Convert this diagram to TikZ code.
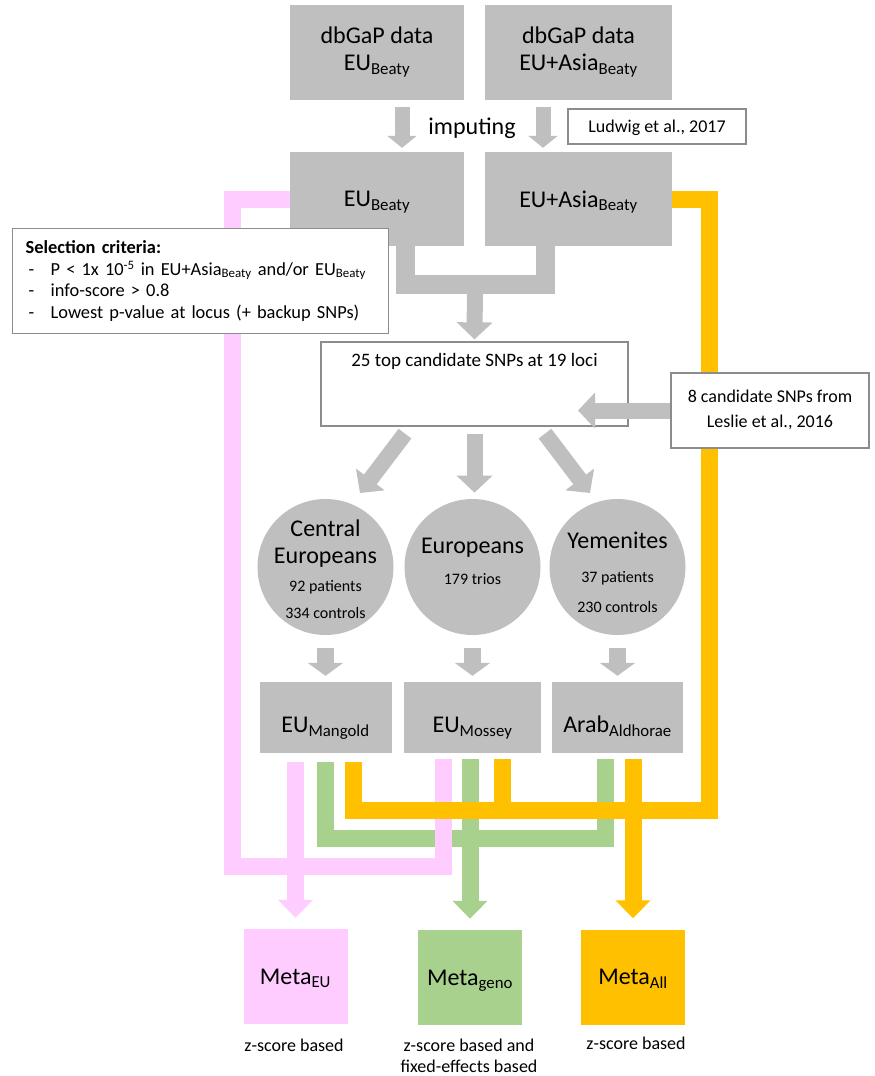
\documentclass[tikz,border=0pt]{standalone}
\usepackage{fontspec}
\setmainfont{Carlito}
\usetikzlibrary{arrows.meta}

\definecolor{boxgray}{HTML}{BFBFBF}
\definecolor{edgegray}{HTML}{8C8C8C}
\definecolor{metapink}{HTML}{FFCCFF}
\definecolor{metagreen}{HTML}{A9D18E}
\definecolor{metaorange}{HTML}{FFC000}

\newcommand{\boxfont}{\fontsize{24}{27}\selectfont}
\newcommand{\notefont}{\fontsize{18}{21}\selectfont}
\newcommand{\countfont}{\fontsize{16}{19}\selectfont}
\newcommand{\critfont}{\fontsize{18.4}{21.7}\selectfont}
\newcommand{\dashitem}{\hspace*{3pt}\makebox[22pt][l]{-}}

\tikzset{
  graybox/.style={fill=boxgray, inner sep=0pt, align=center, font=\boxfont},
  notebox/.style={draw=edgegray, line width=1.3pt, fill=white, inner sep=0pt, align=center},
  popcircle/.style={circle, fill=boxgray, minimum size=136pt, inner sep=0pt},
  poptext/.style={font=\boxfont, align=center, inner sep=0pt, text depth=0pt},
  metabox/.style={minimum width=104pt, minimum height=95pt, inner sep=0pt, font=\boxfont, text depth=0pt},
  toparrow/.style={draw=boxgray, line width=15pt, -{Triangle[width=29pt,length=12pt]}},
  fatarrow/.style={draw=boxgray, line width=16pt, -{Triangle[width=35pt,length=17pt]}},
  downarrow/.style={draw=boxgray, line width=17pt, -{Triangle[width=35pt,length=13pt]}},
  pinkline/.style={draw=metapink, line width=17pt},
  greenline/.style={draw=metagreen, line width=17pt},
  orangeline/.style={draw=metaorange, line width=17pt},
  metatip/.style={-{Triangle[width=34pt,length=18pt]}}
}

\begin{document}
\begin{tikzpicture}[x=1pt,y=-1pt]
  \useasboundingbox (0,0) rectangle (875,1076);
  % dbGaP data
  \node[graybox, minimum width=174pt, minimum height=95pt, text height=36pt, text depth=0pt] (dbEU) at (377,52.5) {dbGaP data\\EU\textsubscript{Beaty}};
  \node[graybox, minimum width=187pt, minimum height=95pt, text height=36pt, text depth=0pt] (dbAsia) at (578.5,52.5) {dbGaP data\\EU+Asia\textsubscript{Beaty}};
  \node[font=\boxfont] (imputing) at (472,128) {imputing};
  \node[notebox, minimum width=178pt, minimum height=35pt, font=\fontsize{18}{21}\selectfont, text depth=0pt] (ludwig) at (657,126.5) {Ludwig et al., 2017};
  % imputed data
  \node[graybox, minimum width=174pt, minimum height=94pt, text depth=0pt] (imEU) at (377,199) {EU\textsubscript{Beaty}};
  \node[graybox, minimum width=187pt, minimum height=94pt, text depth=0pt] (imAsia) at (578.5,199) {EU+Asia\textsubscript{Beaty}};
  \draw[toparrow] ([xshift=25pt,yshift=-7pt]dbEU.south) -- ([xshift=25pt,yshift=4pt]imEU.north);
  \draw[toparrow] ([xshift=-35.5pt,yshift=-7pt]dbAsia.south) -- ([xshift=-35.5pt,yshift=4pt]imAsia.north);

  % candidate SNPs
  \node[notebox, minimum width=307pt, font=\fontsize{19}{22}\selectfont, text height=24pt, text depth=60pt] (top25) at (474.5,384) {25 top candidate SNPs at 19 loci};
  \coordinate (merge) at (475,284);
  \draw[draw=boxgray, line width=19pt] ([xshift=28pt]imEU.south) |- (merge) -| ([xshift=-33.5pt]imAsia.south);
  \draw[fatarrow] (merge) -- ([yshift=2pt]top25.north);

  % populations
  \node[popcircle] (pCE) at (325.5,567) {};
  \node[popcircle] (pEU) at (472.5,567) {};
  \node[popcircle] (pYE) at (617.5,567) {};
  \node[poptext, text height=102pt] (pCEtext) at (pCE) {Central\\Europeans\\[1pt]{\countfont 92 patients}\\{\countfont 334 controls}};
  \node[poptext, text height=35pt] (pEUtext) at (pEU) {Europeans\\[4pt]{\countfont 179 trios}};
  \node[poptext, text height=91pt] (pYEtext) at (pYE) {Yemenites\\[7pt]{\countfont 37 patients}\\[3pt]{\countfont 230 controls}};
  \coordinate (tipCE) at (360,493);
  \coordinate (tipYE) at (590,493);
  \draw[fatarrow] ([xshift=-69.5pt,yshift=-7pt]top25.south) -- (tipCE);
  \draw[fatarrow] ([yshift=-7pt]top25.south) -- +(0,59);
  \draw[fatarrow] ([xshift=70.5pt,yshift=-7pt]top25.south) -- (tipYE);

  % study data
  \node[graybox, minimum width=132pt, minimum height=71pt, text height=30pt, text depth=0pt] (eMan) at (325.5,717.5) {EU\textsubscript{Mangold}};
  \node[graybox, minimum width=137pt, minimum height=71pt, text height=30pt, text depth=0pt] (eMos) at (472.5,717.5) {EU\textsubscript{Mossey}};
  \node[graybox, minimum width=131pt, minimum height=71pt, text height=30pt, text depth=0pt] (aAld) at (617.5,717.5) {Arab\textsubscript{Aldhorae}};
  \draw[downarrow] ([yshift=-13pt]pCE.south) -- ([yshift=6pt]eMan.north);
  \draw[downarrow] ([yshift=-13pt]pEU.south) -- ([yshift=6pt]eMos.north);
  \draw[downarrow] ([yshift=-13pt]pYE.south) -- ([yshift=6pt]aAld.north);

  % meta-analyses
  \node[metabox, fill=metapink] (mEU) at (295.5,976.5) {Meta\textsubscript{EU}};
  \node[metabox, fill=metagreen] (mGeno) at (470,977.5) {Meta\textsubscript{geno}};
  \node[metabox, fill=metaorange] (mAll) at (633,977) {Meta\textsubscript{All}};
  \node[font=\notefont] (cEU) at (294,1045) {z-score based};
  \node[font=\notefont, align=center] (cGeno) at (469,1055.5) {z-score based and\\fixed-effects based};
  \node[font=\notefont] (cAll) at (636,1043) {z-score based};

  % green: genotype based
  \coordinate (greenBar) at (472.5,838);
  \draw[greenline] ([yshift=-9pt]eMan.south) |- (greenBar) -| ([xshift=-12.5pt,yshift=-6pt]aAld.south);
  \draw[greenline, metatip, shorten <=6pt, shorten >=11pt] (mGeno.north |- eMos.south) -- (mGeno.north);
  % pink: european samples
  \coordinate (pinkBend) at (232.5,866);
  \coordinate (pinkEnd) at (443,759);
  \draw[pinkline] (imEU.west) -| (pinkBend) -| (pinkEnd);
  \draw[pinkline, metatip, shorten <=9pt, shorten >=11pt] (mEU.north |- eMan.south) -- (mEU.north);
  % orange: all samples
  \coordinate (orangeBend) at (709.5,810);
  \coordinate (orangeEnd) at (353,762);
  \draw[orangeline] (imAsia.east) -| (orangeBend) -| (orangeEnd);
  \draw[orangeline] ([xshift=29.5pt,yshift=-6pt]eMos.south) -- ([xshift=29.5pt,yshift=-57pt]eMos.south);
  \draw[orangeline, metatip, shorten <=6pt, shorten >=11pt] (mAll.north |- aAld.south) -- (mAll.north);

  % notes on top
  \node[notebox, anchor=north west, minimum width=376pt, minimum height=105pt, text width=350pt, align=left, inner xsep=13pt, font=\critfont] (select) at (12,228) {\textbf{Selection criteria:}\\
    \dashitem P < 1x 10\textsuperscript{-5} in EU+Asia\textsubscript{Beaty} and/or EU\textsubscript{Beaty}\\
    \dashitem info-score > 0.8\\
    \dashitem Lowest p-value at locus (+ backup SNPs)};
  \node[notebox, minimum width=198pt, minimum height=75pt, font=\fontsize{18}{25}\selectfont, text height=34pt, text depth=0pt] (leslie) at (770,410.5) {8 candidate SNPs from\\Leslie et al., 2016};
  \coordinate (lesTip) at (578,410.5);
  \draw[fatarrow] (leslie.west) -- (lesTip);
\end{tikzpicture}
\end{document}
